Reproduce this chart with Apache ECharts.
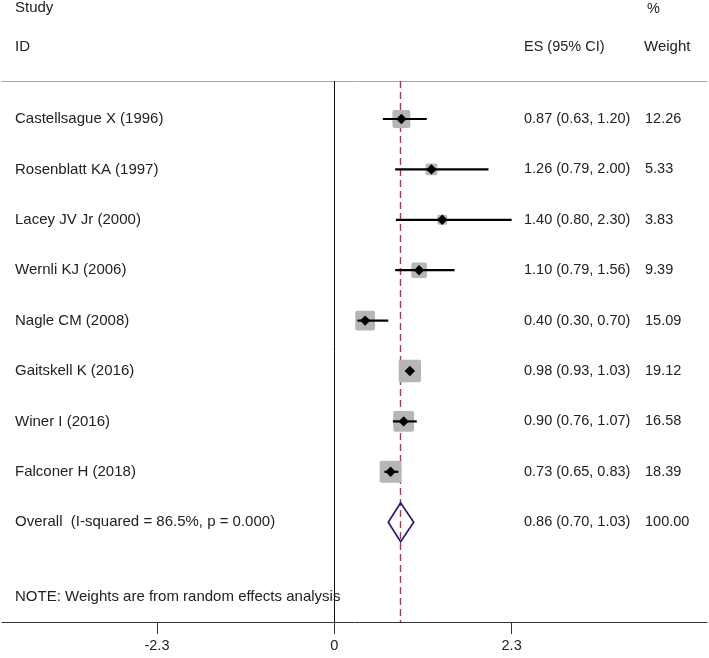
<!DOCTYPE html>
<html><head><meta charset="utf-8">
<script src="https://cdn.jsdelivr.net/npm/echarts@6/dist/echarts.min.js"></script>
<style>html,body{margin:0;padding:0;background:#fff}#c{width:709px;height:658px}</style>
</head><body><div id="c"></div>
<script>
// ---- data ----
const studies = ["Castellsague X (1996)", "Rosenblatt KA (1997)", "Lacey JV Jr (2000)", "Wernli KJ (2006)",
  "Nagle CM (2008)", "Gaitskell K (2016)", "Winer I (2016)", "Falconer H (2018)"];
const esValues = [0.87, 1.26, 1.40, 1.10, 0.40, 0.98, 0.90, 0.73];
const lowerCI  = [0.63, 0.79, 0.80, 0.79, 0.30, 0.93, 0.76, 0.65];
const upperCI  = [1.20, 2.00, 2.30, 1.56, 0.70, 1.03, 1.07, 0.83];
const weights  = [12.26, 5.33, 3.83, 9.39, 15.09, 19.12, 16.58, 18.39];
const overallLabel = "Overall  (I-squared = 86.5%, p = 0.000)";
const overallES = [0.86];
const overallLower = [0.70];
const overallUpper = [1.03];
const overallWeight = [100.00];
const tickValues = [-2.3, 0, 2.3];
const tickLabels = ["-2.3", "0", "2.3"];
const noteText = "NOTE: Weights are from random effects analysis";

// ---- chart ----
const FAM = '"Liberation Sans", Arial, sans-serif';
const FONT = '14.5px ' + FAM;
const FONT_L = '15px ' + FAM;
const TXT = '#222';
const COL_LABEL = 15, COL_ES = 524, COL_W = 645;

const fmt = v => v.toFixed(2);

const studyData = studies.map((s, i) => [esValues[i], i, lowerCI[i], upperCI[i], weights[i]]);
const overallRow = studies.length;
const overallData = [[overallES[0], overallRow, overallLower[0], overallUpper[0], overallWeight[0]]];

function rowTexts(label, e, lo, hi, w, y) {
  return [
    {type: 'text', style: {x: COL_LABEL, y: y, text: label, font: FONT_L, fill: TXT, verticalAlign: 'middle'}},
    {type: 'text', style: {x: COL_ES, y: y, text: fmt(e) + ' (' + fmt(lo) + ', ' + fmt(hi) + ')', font: FONT, fill: TXT, verticalAlign: 'middle'}},
    {type: 'text', style: {x: COL_W, y: y, text: fmt(w), font: FONT, fill: TXT, verticalAlign: 'middle'}}
  ];
}

function renderStudy(params, api) {
  const idx = params.dataIndex;
  const e = api.value(0), i = api.value(1), lo = api.value(2), hi = api.value(3), w = api.value(4);
  const c = api.coord([e, i]);
  const pl = api.coord([lo, i]);
  const ph = api.coord([hi, i]);
  const side = 5.1 * Math.sqrt(w);
  const d = 5.2;
  const children = [
    {type: 'rect', shape: {x: c[0] - side / 2, y: c[1] - side / 2, width: side, height: side, r: 2},
     style: {fill: '#b6b6b6'}},
    {type: 'line', shape: {x1: pl[0], y1: pl[1], x2: ph[0], y2: ph[1]},
     style: {stroke: '#000', lineWidth: 2.2}},
    {type: 'polygon', shape: {points: [[c[0], c[1] - d], [c[0] + d, c[1]], [c[0], c[1] + d], [c[0] - d, c[1]]]},
     style: {fill: '#000'}}
  ].concat(rowTexts(studies[idx], e, lo, hi, w, c[1]));
  return {type: 'group', children: children};
}

function renderOverall(params, api) {
  const e = api.value(0), i = api.value(1), lo = api.value(2), hi = api.value(3), w = api.value(4);
  const c = api.coord([e, i]);
  const pl = api.coord([lo, i]);
  const ph = api.coord([hi, i]);
  const hh = 19.5;
  const children = [
    {type: 'polygon', shape: {points: [[pl[0], c[1]], [c[0], c[1] - hh], [ph[0], c[1]], [c[0], c[1] + hh]]},
     style: {fill: 'none', stroke: '#1d1d7e', lineWidth: 1.7}}
  ].concat(rowTexts(overallLabel, e, lo, hi, w, c[1]));
  return {type: 'group', children: children};
}

const chart = echarts.init(document.getElementById('c'), null, {renderer: 'canvas'});
chart.setOption({
  animation: false,
  backgroundColor: '#fff',
  grid: {left: 2, right: 2, top: 81, bottom: 36, containLabel: false},
  xAxis: [
    {type: 'value', position: 'bottom', min: -4.310, max: 4.834,
     splitLine: {show: false},
     axisLine: {show: true, onZero: false, lineStyle: {color: '#333', width: 1}},
     axisTick: {show: true, length: 12, customValues: tickValues, lineStyle: {color: '#333', width: 1}},
     axisLabel: {show: true, customValues: tickValues, margin: 16,
       formatter: v => tickLabels[tickValues.findIndex(t => Math.abs(t - v) < 1e-9)] ?? String(v),
       color: TXT, fontFamily: FAM, fontSize: 14.5}},
    {type: 'value', position: 'top', min: -4.310, max: 4.834,
     splitLine: {show: false},
     axisLine: {show: true, onZero: false, lineStyle: {color: '#a8a8a8', width: 1}},
     axisTick: {show: false}, axisLabel: {show: false}}
  ],
  yAxis: {type: 'value', inverse: true, min: -0.754, max: 9.98, show: false},
  graphic: [
    {type: 'text', left: COL_LABEL, top: 0, style: {text: 'Study', font: FONT_L, fill: TXT}},
    {type: 'text', left: COL_LABEL, top: 39, style: {text: 'ID', font: FONT_L, fill: TXT}},
    {type: 'text', left: COL_ES, top: 39, style: {text: 'ES (95% CI)', font: FONT, fill: TXT}},
    {type: 'text', left: 647, top: 1, style: {text: '%', font: FONT, fill: TXT}},
    {type: 'text', left: COL_W - 1, top: 39, style: {text: 'Weight', font: FONT_L, fill: TXT}},
    {type: 'text', left: COL_LABEL, top: 589, style: {text: noteText, font: FONT_L, fill: TXT}}
  ],
  series: [
    {type: 'custom', name: 'studies', xAxisIndex: 0, renderItem: renderStudy, data: studyData,
     encode: {x: [0, 2, 3], y: 1}, z: 5,
     markLine: {silent: true, symbol: 'none', label: {show: false},
       data: [
         {xAxis: 0, lineStyle: {color: '#111', width: 1, type: 'solid'}},
         {xAxis: overallES[0], lineStyle: {color: '#9e3d4e', width: 1.4, type: [7, 4]}}
       ]}},
    {type: 'custom', name: 'overall', xAxisIndex: 0, renderItem: renderOverall, data: overallData,
     encode: {x: [0, 2, 3], y: 1}, z: 6}
  ]
});
</script></body></html>
